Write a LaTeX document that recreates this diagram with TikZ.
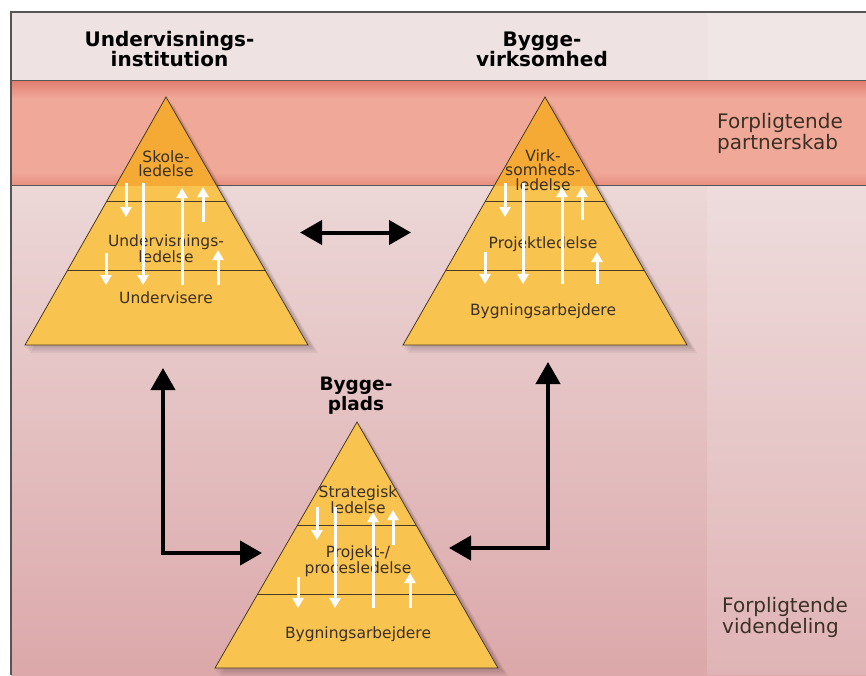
\documentclass[tikz,border=0pt]{standalone}
\usepackage{fontspec}
\setmainfont{DejaVu Sans}
\usetikzlibrary{arrows.meta,calc}

\definecolor{headbg}{HTML}{EFE2E2}
\definecolor{bandedge}{HTML}{E07C6E}
\definecolor{bandmid}{HTML}{F0A898}
\definecolor{lowtop}{HTML}{ECD7D7}
\definecolor{lowbot}{HTML}{DCA8AA}
\definecolor{pyrfill}{HTML}{F9C350}
\definecolor{pyrtop}{HTML}{F6AA36}
\definecolor{pyrline}{HTML}{4A3A22}
\definecolor{labeltext}{HTML}{3B3024}
\definecolor{framegray}{HTML}{555555}

\tikzset{
  tier/.style={font=\fontsize{15.5}{14.5}\selectfont, text=labeltext, align=center, inner sep=0pt},
  head/.style={font=\bfseries\fontsize{20}{20}\selectfont, align=center, inner sep=0pt},
  side/.style={font=\fontsize{20}{19}\selectfont, text=labeltext, align=left, inner sep=0pt},
  flow/.style={draw=white, line width=3pt, -{Triangle[width=11pt,length=10pt]}},
  link/.style={draw=black, line width=4pt,
    {Triangle[width=24pt,length=22pt]}-{Triangle[width=24pt,length=22pt]}},
  pyrbody/.style={fill=pyrfill},
  pyredge/.style={draw=pyrline, line width=0.8pt, line join=miter},
  tierline/.style={draw=pyrline, line width=0.9pt},
}

\begin{document}
\begin{tikzpicture}[x=1pt,y=-1pt]
\useasboundingbox (0,0) rectangle (866,675);

% ---- background bands ----
\fill[white] (0,0) rectangle (866,675);
\fill[headbg] (11,12) rectangle (866,80);
\shade[top color=lowtop, bottom color=lowbot] (11,185) rectangle (866,675);
\fill[white, opacity=0.14] (707,12) rectangle (866,675);
% partnership band: light salmon with darker rims
\fill[bandmid] (11,80) rectangle (866,185);
\shade[top color=bandedge, bottom color=bandmid] (11,80) rectangle (866,98);
\shade[top color=bandmid, bottom color=bandedge!55!bandmid] (11,172) rectangle (866,185);
\draw[framegray, line width=0.7pt] (11,80) -- (866,80);
\draw[framegray, line width=0.7pt] (11,185) -- (866,185);
\draw[framegray, line width=1.2pt] (11,675) -- (11,12) -- (866,12);

% ---- pyramid corners ----
\coordinate (uA) at (166,97);  \coordinate (uL) at (25,345);  \coordinate (uR) at (308,345);
\coordinate (vA) at (545,97);  \coordinate (vL) at (403,345); \coordinate (vR) at (687,345);
\coordinate (pA) at (357,422); \coordinate (pL) at (215,668); \coordinate (pR) at (498,668);

% soft shadows
\foreach \p in {u,v,p}{
  \foreach \d in {2,4,6,8}{
    \fill[black, opacity=0.05] ($(\p A)+(\d,\d)$) -- ($(\p L)+(\d-3,\d)$) -- ($(\p R)+(\d+2,\d)$) -- cycle;
  }
}

% bodies
\foreach \p in {u,v,p}{
  \fill[pyrbody] (\p A) -- (\p L) -- (\p R) -- cycle;
}
% upper part inside the partnership band
\begin{scope}
  \clip (11,80) rectangle (866,185);
  \fill[pyrtop] (uA) -- (uL) -- (uR) -- cycle;
  \fill[pyrtop] (vA) -- (vL) -- (vR) -- cycle;
\end{scope}
% tiers and outlines
\foreach \p in {u,v,p}{
  \draw[tierline] ($(\p A)!0.42!(\p L)$) -- ($(\p A)!0.42!(\p R)$);
  \draw[tierline] ($(\p A)!0.70!(\p L)$) -- ($(\p A)!0.70!(\p R)$);
  \draw[pyredge] (\p A) -- (\p L) -- (\p R) -- cycle;
}

% ---- column headings (base = baseline of the last line) ----
\node[head, anchor=base] (hu) at (169.5,66.5) {Undervisnings-\\institution};
\node[head, anchor=base] (hv) at (542,66.5) {Bygge-\\virksomhed};
\node[head, anchor=base, font=\bfseries\fontsize{18.5}{18}\selectfont] (hp) at (356,410) {Bygge-\\plads};

% ---- side labels ----
\node[side, anchor=base west] (sp) at (717,149) {Forpligtende\\partnerskab};
\node[side, anchor=base west] (sv) at (722,633) {Forpligtende\\videndeling};

% ---- tier labels ----
\node[tier, anchor=base] (u1) at (166,176.5) {Skole-\\ledelse};
\node[tier, anchor=base] (u2) at (166,262) {Undervisnings-\\ledelse};
\node[tier, anchor=base] (u3) at (166,303.5) {Undervisere};

\node[tier, anchor=base] (v1) at (543,190) {Virk-\\somheds-\\ledelse};
\node[tier, anchor=base] (v2) at (543,248.5) {Projektledelse};
\node[tier, anchor=base] (v3) at (543,315) {Bygningsarbejdere};

\node[tier, anchor=base] (p1) at (358,513.5) {Strategisk\\ledelse};
\node[tier, anchor=base] (p2) at (358,573.5) {Projekt-/\\procesledelse};
\node[tier, anchor=base] (p3) at (358,638) {Bygningsarbejdere};

% ---- white flows inside the pyramids ----
% education institution
\coordinate (ua1) at (126,183); \coordinate (ub1) at (126,217);
\coordinate (ua2) at (143,183); \coordinate (ub2) at (143,285);
\coordinate (ua3) at (182,285); \coordinate (ub3) at (182,188);
\coordinate (ua4) at (203,222); \coordinate (ub4) at (203,187);
\coordinate (ua5) at (106,253); \coordinate (ub5) at (106,285);
\coordinate (ua6) at (218,285); \coordinate (ub6) at (218,250);
% construction company
\coordinate (va1) at (505,183); \coordinate (vb1) at (505,217);
\coordinate (va2) at (523,183); \coordinate (vb2) at (523,284);
\coordinate (va3) at (562,284); \coordinate (vb3) at (562,187);
\coordinate (va4) at (582,220); \coordinate (vb4) at (582,187);
\coordinate (va5) at (485,252); \coordinate (vb5) at (485,284);
\coordinate (va6) at (597,284); \coordinate (vb6) at (597,252);
% building site
\coordinate (pa1) at (317,507); \coordinate (pb1) at (317,540);
\coordinate (pa2) at (335,507); \coordinate (pb2) at (335,608);
\coordinate (pa3) at (373,608); \coordinate (pb3) at (373,512);
\coordinate (pa4) at (393,545); \coordinate (pb4) at (393,510);
\coordinate (pa5) at (298,577); \coordinate (pb5) at (298,608);
\coordinate (pa6) at (410,608); \coordinate (pb6) at (410,573);
\foreach \p in {u,v,p}{
  \foreach \i in {1,...,6}{
    \draw[flow] (\p a\i) -- (\p b\i);
  }
}

% ---- black links between the organisations ----
\coordinate (luv) at (300,232.5);  \coordinate (ruv) at (411,232.5);
\draw[link] (luv) -- (ruv);
\coordinate (lup) at (163,368);    \coordinate (lpu) at (262,553);
\draw[link] (lup) |- (lpu);
\coordinate (rvp) at (548,362);    \coordinate (rpv) at (449,548);
\draw[link] (rvp) |- (rpv);
\end{tikzpicture}
\end{document}
